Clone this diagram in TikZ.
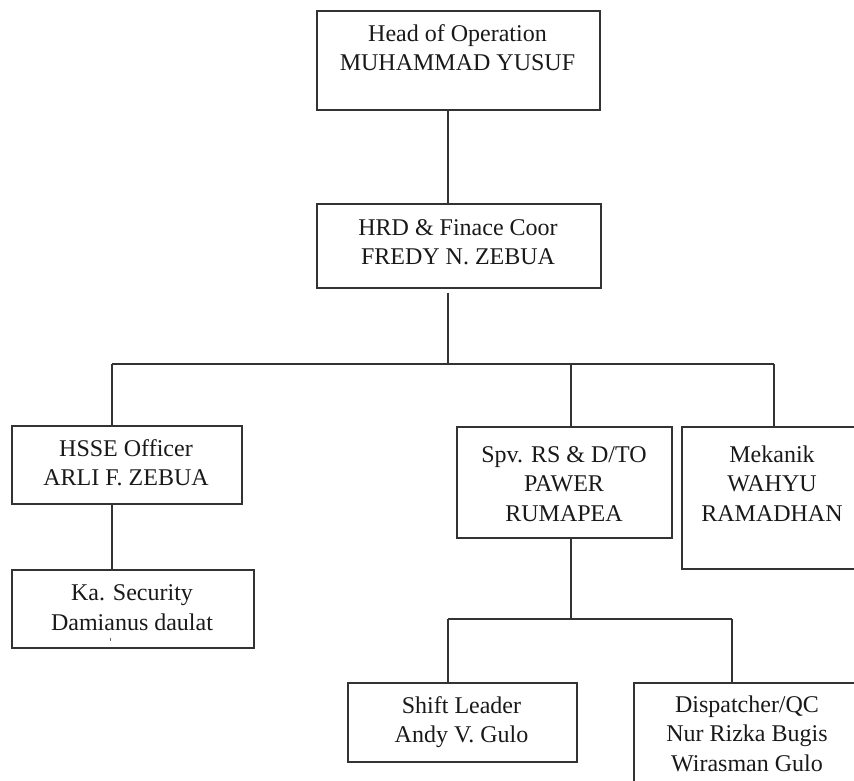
\documentclass[tikz,border=0pt]{standalone}
\usepackage{fontspec}
\setmainfont{Liberation Serif}
\begin{document}
\begin{tikzpicture}[x=1pt,y=-1pt,
  box/.style={draw=black!80, line width=1.6pt, inner sep=0pt, anchor=north west},
  lbl/.style={align=center, inner sep=0pt, anchor=base, text=black!90,
    font=\fontsize{24}{29.5}\selectfont},
  conn/.style={draw=black!80, line width=1.6pt}]
\clip (0,0) rectangle (854,780);
\useasboundingbox (0,0) rectangle (854,780);
% boxes
\node[box, minimum width=283, minimum height=99] (ho) at (316,10) {};
\node[box, minimum width=284, minimum height=84] (hrd) at (316,203) {};
\node[box, minimum width=230, minimum height=78] (hsse) at (11,425) {};
\node[box, minimum width=242, minimum height=78] (ka) at (11,569) {};
\node[box, minimum width=215, minimum height=111] (spv) at (456,426) {};
\node[box, minimum width=190, minimum height=142] (mek) at (681,426) {};
\node[box, minimum width=229, minimum height=79] (sl) at (347,682) {};
\node[box, minimum width=230, minimum height=120] (dis) at (633,682) {};
% texts (anchor = baseline of last line)
\node[lbl] (hoT) at (457.5,70.5) {Head of Operation\\MUHAMMAD YUSUF};
\node[lbl] (hrdT) at (458,264.5) {HRD \& Finace Coor\\FREDY N. ZEBUA};
\node[lbl] (hsseT) at (126,485.5) {HSSE Officer\\ARLI F. ZEBUA};
\node[lbl] (kaT) at (132,630) {Ka. Security\\Damianus daulat};
\node[lbl] (spvT) at (564,521) {Spv. RS \& D/TO\\PAWER\\RUMAPEA};
\node[lbl] (mekT) at (772,521) {Mekanik\\WAHYU\\RAMADHAN};
\node[lbl] (slT) at (461.5,742.5) {Shift Leader\\Andy V. Gulo};
\node[lbl] (disT) at (747,771) {Dispatcher/QC\\Nur Rizka Bugis\\Wirasman Gulo};
\draw[black!60, line width=1pt] (110,637.5) -- (110,640.5);
% connector coordinates
\coordinate (x1) at (448,0);
\coordinate (bus) at (0,364);
\coordinate (bl) at (112,364);
\coordinate (br) at (774,364);
\coordinate (bm) at (571,364);
\coordinate (sbus) at (0,619);
\coordinate (sbl) at (448,619);
\coordinate (sbr) at (732,619);
\coordinate (hsx) at (112,0);
% connectors
\draw[conn] (ho.south -| x1) -- (hrd.north -| x1);
\draw[conn] ([yshift=-4]hrd.south -| x1) -- (bus -| x1);
\draw[conn] (bl) -- (br);
\draw[conn] (bl) -- (hsse.north -| bl);
\draw[conn] (bm) -- (spv.north -| bm);
\draw[conn] (br) -- (mek.north -| br);
\draw[conn] (hsse.south -| hsx) -- (ka.north -| hsx);
\draw[conn] (spv.south -| bm) -- (sbus -| bm);
\draw[conn] (sbl) -- (sbr);
\draw[conn] (sbl) -- (sl.north -| sbl);
\draw[conn] (sbr) -- (dis.north -| sbr);
\end{tikzpicture}
\end{document}
